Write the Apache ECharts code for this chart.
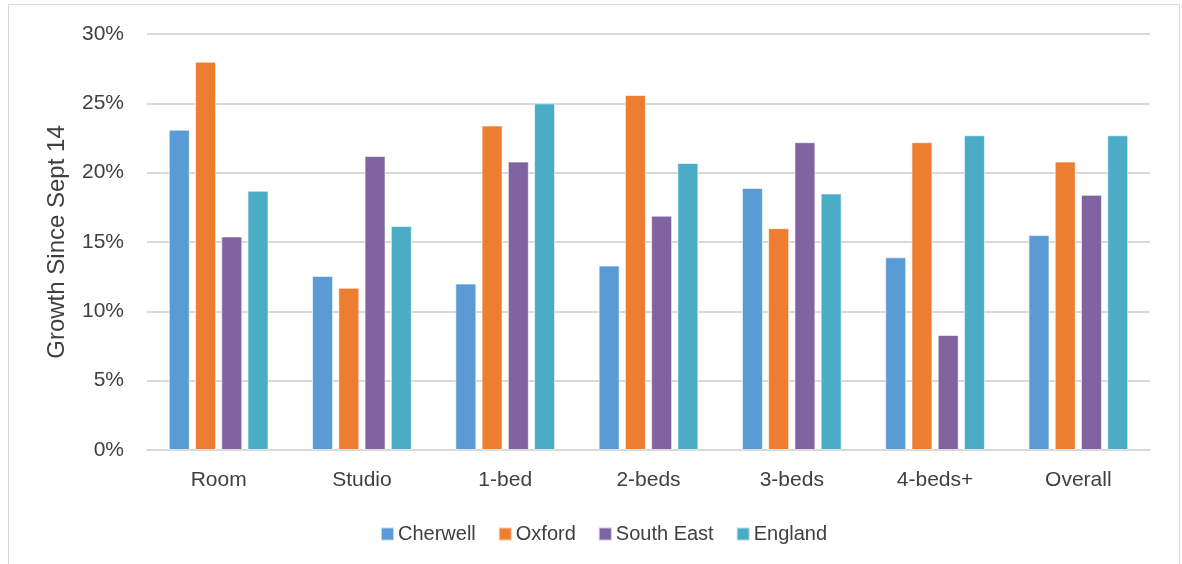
<!DOCTYPE html>
<html>
<head>
<meta charset="utf-8">
<script src="https://cdn.jsdelivr.net/npm/echarts@6/dist/echarts.min.js"></script>
<style>
  html, body { margin: 0; padding: 0; background: #fff; }
  #frame { position: absolute; left: 8px; top: 4px; width: 1172px; height: 570px; border: 1px solid #d9d9d9; box-sizing: border-box; }
  #chart { position: absolute; left: 0; top: 0; width: 1182px; height: 564px; }
</style>
</head>
<body>
<div id="frame"></div>
<div id="chart"></div>
<script>
// categories and series values (growth since Sept 14, %)
const categories = ['Room', 'Studio', '1-bed', '2-beds', '3-beds', '4-beds+', 'Overall'];
const cherwell = [23.1, 12.55, 12.0, 13.3, 18.9, 13.9, 15.5];
const oxford = [28.0, 11.7, 23.4, 25.6, 16.0, 22.2, 20.8];
const southEast = [15.4, 21.2, 20.8, 16.9, 22.2, 8.3, 18.4];
const england = [18.7, 16.15, 25.0, 20.7, 18.5, 22.7, 22.7];

const font = 'Liberation Sans, Arial, sans-serif';
const textColor = '#404040';

function bar(name, data, color) {
  return {
    name: name,
    type: 'bar',
    data: data,
    barWidth: 21,
    barGap: '25%',
    itemStyle: { color: color, borderColor: 'rgba(255,255,255,0.6)', borderWidth: 1 }
  };
}

const myChart = echarts.init(document.getElementById('chart'));
const option = {
  animation: false,
  grid: { left: 147, right: 32, top: 34, bottom: 114 },
  legend: {
    top: 519,
    left: 375,
    itemWidth: 13,
    itemHeight: 13,
    itemGap: 22,
    icon: 'rect',
    textStyle: { fontFamily: font, fontSize: 20, color: textColor, padding: [0, 0, 0, -1] },
    data: ['Cherwell', 'Oxford', 'South East', 'England']
  },
  xAxis: {
    type: 'category',
    data: categories,
    axisTick: { show: false },
    axisLine: { lineStyle: { color: '#d9d9d9', width: 2 } },
    axisLabel: { fontFamily: font, fontSize: 21, color: textColor, margin: 20 }
  },
  yAxis: {
    type: 'value',
    min: 0,
    max: 30,
    interval: 5,
    name: 'Growth Since Sept 14',
    nameLocation: 'middle',
    nameGap: 78,
    nameTextStyle: { fontFamily: font, fontSize: 24, color: textColor },
    axisLine: { show: false },
    axisTick: { show: false },
    axisLabel: { formatter: '{value}%', fontFamily: font, fontSize: 21, color: textColor, margin: 23 },
    splitLine: { lineStyle: { color: '#d9d9d9', width: 2 } }
  },
  series: [
    bar('Cherwell', cherwell, '#5B9BD5'),
    bar('Oxford', oxford, '#ED7D31'),
    bar('South East', southEast, '#8064A2'),
    bar('England', england, '#4BACC6')
  ]
};
myChart.setOption(option);
</script>
</body>
</html>
